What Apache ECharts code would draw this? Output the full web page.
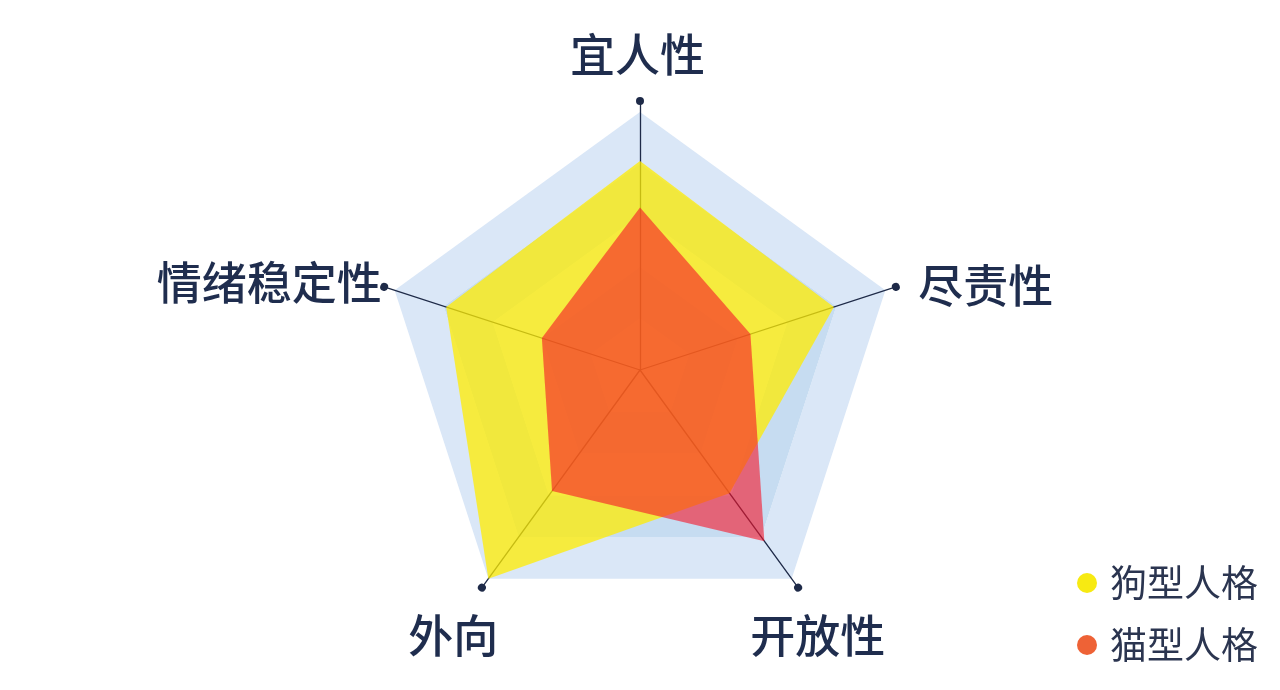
<!DOCTYPE html>
<html>
<head>
<meta charset="utf-8">
<script src="https://cdn.jsdelivr.net/npm/echarts@6/dist/echarts.min.js"></script>
<style>
  html, body { margin: 0; padding: 0; background: #fff; }
  #chart { width: 1280px; height: 690px; }
</style>
</head>
<body>
<div id="chart"></div>
<script>
// indicator order goes counter-clockwise from the top
const indicators = ['宜人性', '情绪稳定性', '外向', '开放性', '尽责性'];
const maxValue = 100;
const seriesNames = ['狗型人格', '猫型人格'];
const dogValues = [81, 79, 100, 59, 79];
const catValues = [63, 40, 58, 82, 45];

var chart = echarts.init(document.getElementById('chart'));

// each label gets its own rich style so it can be nudged into place
const labelKeys = ['top', 'ul', 'll', 'lr', 'ur'];
const nameBase = {
    fontSize: 45,
    fontWeight: 500,
    color: '#1f2d4e',
    fontFamily: '"Noto Sans CJK SC", sans-serif'
};

var option = {
    backgroundColor: '#fff',
    legend: {
        orient: 'vertical',
        left: 1072,
        top: 558,
        icon: 'circle',
        itemWidth: 20,
        itemHeight: 20,
        itemGap: 22,
        data: seriesNames,
        textStyle: {
            fontSize: 37,
            lineHeight: 40,
            color: '#2b3550',
            fontFamily: '"Noto Sans CJK SC", sans-serif',
            padding: [0, 0, 0, 8]
        }
    },
    radar: [
        {
            // coloured bands + data
            center: [640, 370],
            radius: 258,
            splitNumber: 5,
            indicator: indicators.map(n => ({ name: n, max: maxValue })),
            axisName: { show: false },
            axisLine: { show: false },
            splitLine: { show: false },
            splitArea: {
                show: true,
                areaStyle: { color: ['#dae7f7', '#c6dcf1'] }
            }
        },
        {
            // longer spokes with end dots and the names
            center: [640, 370],
            radius: 269,
            splitNumber: 5,
            nameGap: 20,
            indicator: indicators.map(n => ({ name: n, max: maxValue })),
            axisName: {
                align: 'center',
                verticalAlign: 'middle',
                formatter: function (name) {
                    return '{' + labelKeys[indicators.indexOf(name)] + '|' + name + '}';
                },
                rich: {
                    top: Object.assign({ padding: [0, 5, 52, 0] }, nameBase),
                    ur: Object.assign({ padding: [10, 0, 0, 142] }, nameBase),
                    ul: Object.assign({ padding: [4, 192, 0, 0] }, nameBase),
                    ll: Object.assign({ padding: [64, 34, 0, 0] }, nameBase),
                    lr: Object.assign({ padding: [64, 0, 0, 16] }, nameBase)
                }
            },
            axisLine: {
                show: true,
                symbol: ['none', 'circle'],
                symbolSize: [8, 8],
                lineStyle: { color: '#1e2a48', width: 1.3 }
            },
            splitLine: { show: false },
            splitArea: { show: false }
        }
    ],
    series: [
        {
            type: 'radar',
            radarIndex: 0,
            symbol: 'none',
            lineStyle: { width: 0 },
            data: [
                {
                    name: seriesNames[0],
                    value: dogValues,
                    itemStyle: { color: '#f7ea12' },
                    areaStyle: { color: 'rgba(255, 236, 0, 0.75)', opacity: 1 }
                },
                {
                    name: seriesNames[1],
                    value: catValues,
                    itemStyle: { color: '#ee6236' },
                    areaStyle: { color: 'rgba(247, 20, 40, 0.6)', opacity: 1 }
                }
            ]
        }
    ]
};

chart.setOption(option);
window.addEventListener('resize', chart.resize);
</script>
</body>
</html>
